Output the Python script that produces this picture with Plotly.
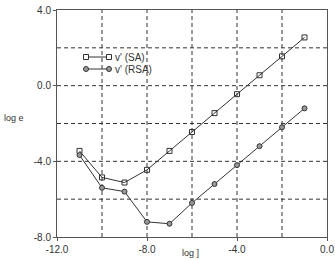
import plotly.graph_objects as go

log_x = [-11, -10, -9, -8, -7, -6, -5, -4, -3, -2, -1]
sa_vals = [-3.45, -4.85, -5.12, -4.45, -3.45, -2.45, -1.45, -0.45, 0.55, 1.55, 2.55]
rsa_vals = [-3.67, -5.4, -5.6, -7.2, -7.3, -6.2, -5.2, -4.2, -3.2, -2.2, -1.2]
x_ticks = [-12, -8, -4, 0]
x_tick_labels = ["-12.0", "-8.0", "-4.0", "0.0"]
y_ticks = [4, 0, -4, -8]
y_tick_labels = ["4.0", "0.0", "-4.0", "-8.0"]
grid_x = [-10, -8, -6, -4, -2]
grid_y = [2, 0, -2, -4, -6]

line_col = "#333333"
fig = go.Figure()
fig.add_trace(go.Scatter(x=log_x, y=sa_vals, mode="lines+markers", name="v' (SA)",
                         line=dict(color=line_col, width=1),
                         marker=dict(symbol="square-open", size=5, color=line_col, line=dict(width=1))))
fig.add_trace(go.Scatter(x=log_x, y=rsa_vals, mode="lines+markers", name="v' (RSA)",
                         line=dict(color=line_col, width=1),
                         marker=dict(symbol="circle", size=5, color="#999999", line=dict(width=1, color=line_col))))

shapes = []
for gx in grid_x:
    shapes.append(dict(type="line", xref="x", yref="paper", x0=gx, x1=gx, y0=0, y1=1,
                       line=dict(color=line_col, width=1, dash="4px,3px"), layer="below"))
for gy in grid_y:
    shapes.append(dict(type="line", xref="paper", yref="y", x0=0, x1=1, y0=gy, y1=gy,
                       line=dict(color=line_col, width=1, dash="4px,3px"), layer="below"))

# manual legend (paper coordinates, pixel-based)
W, H = 335, 260
L, R, T, B = 57, 8, 10, 23
pw, ph = W - L - R, H - T - B
def px(x):
    return (x - L) / pw
def py(y):
    return 1 - (y - T) / ph

legend_rows = [(57, "v' (SA)", "rect"), (69, "v' (RSA)", "circle")]
annotations = []
for yy, label, kind in legend_rows:
    shapes.append(dict(type="line", xref="paper", yref="paper", x0=px(86), x1=px(109),
                       y0=py(yy), y1=py(yy), line=dict(color=line_col, width=1)))
    for cx in (86, 109):
        shapes.append(dict(type=kind, xref="paper", yref="paper", x0=px(cx - 2.5), x1=px(cx + 2.5),
                           y0=py(yy + 2.5), y1=py(yy - 2.5), line=dict(color=line_col, width=1),
                           fillcolor="white" if kind == "rect" else "#999999"))
    annotations.append(dict(xref="paper", yref="paper", x=px(113), y=py(yy), text=label,
                            showarrow=False, xanchor="left", yanchor="middle",
                            font=dict(size=10, color=line_col)))

annotations.append(dict(xref="paper", yref="paper", x=px(2), y=py(118), text="log e",
                        showarrow=False, xanchor="left", yanchor="middle",
                        font=dict(size=9, color=line_col)))
annotations.append(dict(xref="paper", yref="paper", x=px(190), y=py(253), text="log ]",
                        showarrow=False, xanchor="center", yanchor="middle",
                        font=dict(size=9, color=line_col)))

fig.update_layout(
    width=W, height=H, margin=dict(l=L, r=R, t=T, b=B, autoexpand=False),
    paper_bgcolor="white", plot_bgcolor="white", showlegend=False,
    font=dict(family="Liberation Sans, Arial", size=10, color=line_col),
    shapes=shapes, annotations=annotations,
    xaxis=dict(range=[-12, 0], tickvals=x_ticks, ticktext=x_tick_labels, showgrid=False,
               zeroline=False, showline=True, linecolor="#555555", linewidth=1, mirror=True,
               ticks="outside", ticklen=3, tickcolor="#555555", ticklabeloverflow="allow",
               automargin=False),
    yaxis=dict(range=[-8, 4], tickvals=y_ticks, ticktext=y_tick_labels, showgrid=False,
               zeroline=False, showline=True, linecolor="#555555", linewidth=1, mirror=True,
               ticks="outside", ticklen=3, tickcolor="#555555", ticklabeloverflow="allow",
               automargin=False),
)
fig.write_html("out.html")
